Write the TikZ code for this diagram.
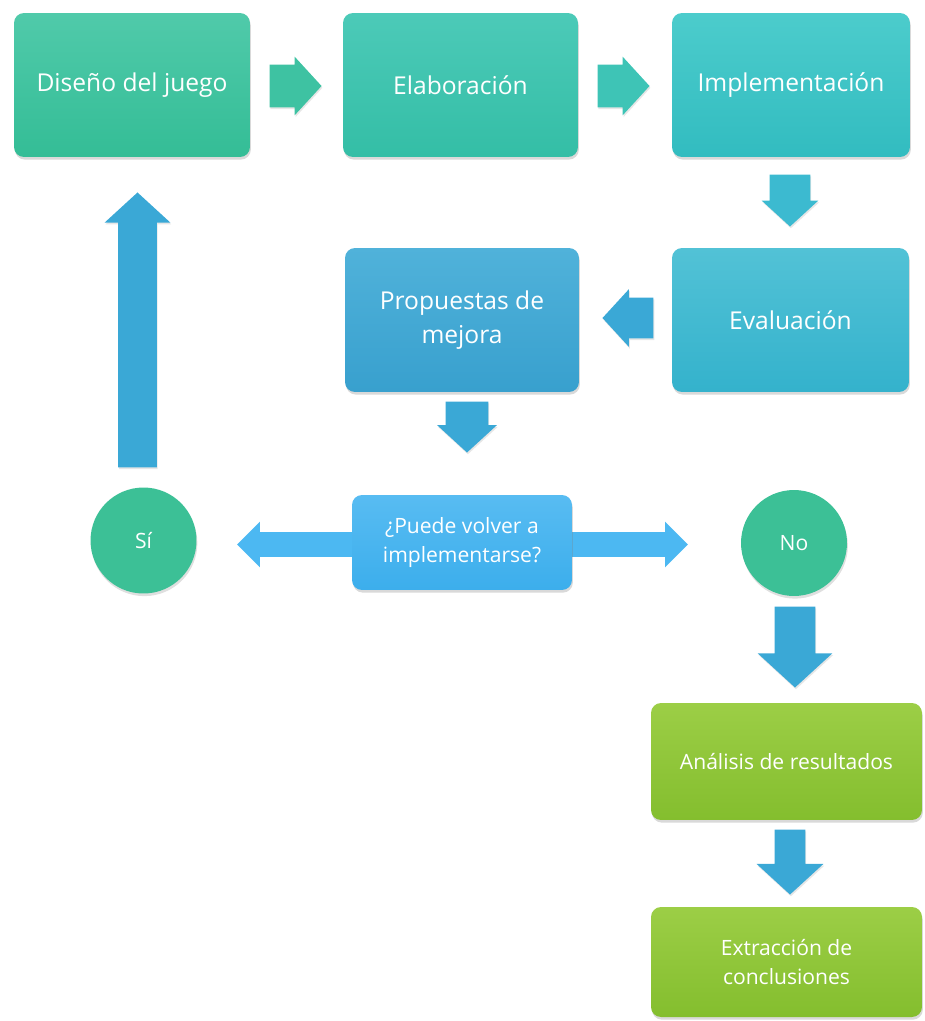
\documentclass[tikz,border=0pt]{standalone}
\usepackage{fontspec}
\setmainfont{Open Sans}
\usetikzlibrary{positioning, shapes.arrows, shadows}

% box colours (top / bottom of the shading)
\definecolor{disTop}{RGB}{80,202,170}
\definecolor{disBot}{RGB}{52,189,150}
\definecolor{elaTop}{RGB}{76,202,184}
\definecolor{elaBot}{RGB}{52,190,166}
\definecolor{impTop}{RGB}{76,204,204}
\definecolor{impBot}{RGB}{50,188,192}
\definecolor{evaTop}{RGB}{82,194,214}
\definecolor{evaBot}{RGB}{52,178,204}
\definecolor{proTop}{RGB}{80,178,218}
\definecolor{proBot}{RGB}{56,160,206}
\definecolor{decTop}{RGB}{88,188,242}
\definecolor{decBot}{RGB}{60,174,236}
\definecolor{circC}{RGB}{60,192,150}
\definecolor{grnTop}{RGB}{156,206,70}
\definecolor{grnBot}{RGB}{132,190,46}
% arrow colours
\definecolor{arrGreen}{RGB}{62,194,162}
\definecolor{arrTeal}{RGB}{62,196,182}
\definecolor{arrCyan}{RGB}{60,186,208}
\definecolor{arrBlue}{RGB}{58,168,214}
\definecolor{arrSky}{RGB}{76,184,242}

\tikzset{
  box/.style={rectangle, rounded corners=0.2cm, inner sep=0pt, text=white, align=center,
              font=\fontsize{14}{19}\selectfont,
              drop shadow={opacity=0.3, shadow xshift=0.5pt, shadow yshift=-1.5pt}},
  smallbox/.style={box, font=\fontsize{12}{17}\selectfont},
  ball/.style={circle, inner sep=0pt, minimum size=2.12cm, fill=circC, text=white,
               font=\fontsize{12}{14}\selectfont,
               drop shadow={opacity=0.25, shadow xshift=0.5pt, shadow yshift=-1.5pt}},
  % inner ysep gives half the shaft width; placed by the tip
  blockarrow/.style={single arrow, anchor=tip, inner xsep=0pt, single arrow tip angle=95,
               drop shadow={opacity=0.2, shadow xshift=0.5pt, shadow yshift=-1pt}}
}

\begin{document}
\begin{tikzpicture}[x=0.02cm, y=-0.02cm]
    \useasboundingbox (0,0) rectangle (924,1021);

    % Top row
    \node[box, minimum width=4.72cm, minimum height=2.88cm, top color=disTop, bottom color=disBot] (dis) at (132,85) {Diseño del juego};
    \node[box, minimum width=4.70cm, minimum height=2.88cm, top color=elaTop, bottom color=elaBot] (ela) at (460.5,85) {Elaboración};
    \node[box, minimum width=4.76cm, minimum height=2.88cm, top color=impTop, bottom color=impBot] (imp) at (791,85) {Implementación};

    % Second row
    \node[box, minimum width=4.74cm, minimum height=2.88cm, top color=evaTop, bottom color=evaBot] (eva) at (790.5,320) {Evaluación};
    \node[box, minimum width=4.68cm, minimum height=2.88cm, top color=proTop, bottom color=proBot] (pro) at (462,320) {Propuestas de\\mejora};

    % Decision row (the double arrow lies behind the box)
    \node[double arrow, inner xsep=0pt, inner ysep=0.24cm, fill=arrSky, minimum height=9.02cm, minimum width=0.9cm,
          double arrow head extend=0.21cm, double arrow tip angle=90] (both) at (462.5,544.5) {};
    \node[smallbox, minimum width=4.4cm, minimum height=1.9cm, top color=decTop, bottom color=decBot] (dec) at (462,542.5) {¿Puede volver a\\implementarse?};
    \node[ball] (si) at (143.5,540.5) {Sí};
    \node[ball] (no) at (794,543) {No};

    % Green boxes
    \node[smallbox, minimum width=5.42cm, minimum height=2.34cm, top color=grnTop, bottom color=grnBot] (ana) at (786.5,761.5) {Análisis de resultados};
    \node[smallbox, minimum width=5.42cm, minimum height=2.2cm, top color=grnTop, bottom color=grnBot] (ext) at (786.5,962) {Extracción de\\conclusiones};

    % Block arrows
    \node[blockarrow, fill=arrGreen, inner ysep=0.42cm, minimum height=1.04cm, minimum width=1.16cm, single arrow head extend=0.16cm] (a1) at (322,86) {};
    \node[blockarrow, fill=arrTeal, inner ysep=0.42cm, minimum height=1.04cm, minimum width=1.16cm, single arrow head extend=0.16cm] (a2) at (650,86) {};
    \node[blockarrow, fill=arrCyan, rotate=-90, inner ysep=0.4cm, minimum height=1.04cm, minimum width=1.12cm, single arrow head extend=0.16cm] (a3) at (790,227) {};
    \node[blockarrow, fill=arrBlue, rotate=180, inner ysep=0.4cm, minimum height=1.02cm, minimum width=1.14cm, single arrow head extend=0.17cm] (a4) at (602,318) {};
    \node[blockarrow, fill=arrBlue, rotate=-90, inner ysep=0.42cm, minimum height=1.02cm, minimum width=1.18cm, single arrow head extend=0.17cm] (a5) at (467,453) {};
    \node[blockarrow, fill=arrBlue, rotate=90, inner ysep=0.38cm, minimum height=5.5cm, minimum width=1.3cm, single arrow head extend=0.27cm] (a6) at (137.5,192) {};
    \node[blockarrow, fill=arrBlue, rotate=-90, inner ysep=0.4cm, minimum height=1.62cm, minimum width=1.48cm, single arrow head extend=0.34cm] (a7) at (795,688) {};
    \node[blockarrow, fill=arrBlue, rotate=-90, inner ysep=0.3cm, minimum height=1.3cm, minimum width=1.32cm, single arrow head extend=0.36cm] (a8) at (790,895) {};
\end{tikzpicture}
\end{document}
